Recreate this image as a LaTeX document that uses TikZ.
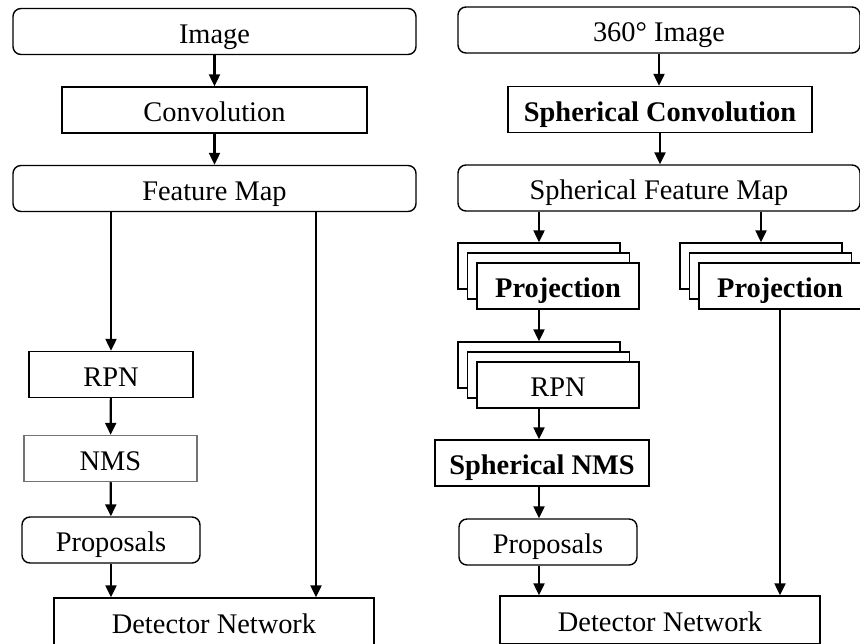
\documentclass[tikz,border=0pt]{standalone}
\usepackage{fontspec}
\setmainfont{Liberation Serif}
\usetikzlibrary{arrows.meta}

\begin{document}
\begin{tikzpicture}[x=0.5pt,y=-0.5pt,
  box/.style={draw, line width=0.7pt, fill=white, inner sep=0pt,
    font=\fontsize{14.2}{17}\selectfont, text height=11.6pt, text depth=0pt,
    minimum height=23pt},
  rbox/.style={box, rounded corners=4pt},
  flow/.style={-{Triangle[length=6pt,width=5.5pt]}, line width=1.1pt}]
\useasboundingbox (0,0) rectangle (860,643);

% standard detector
\node[rbox, minimum width=201.5pt] (img) at (214.5,31.5) {Image};
\node[box, minimum width=152.5pt] (conv) at (214.5,110) {Convolution};
\node[rbox, minimum width=201.5pt] (fmap) at (214.5,188.5) {Feature Map};
\node[box, minimum width=82pt] (rpn) at (111,374.5) {RPN};
\node[box, draw=black!55, minimum width=86.5pt] (nms) at (110.5,458.5) {NMS};
\node[rbox, minimum width=89pt] (prop) at (111,540) {Proposals};
\node[box, minimum width=160pt, minimum height=24pt] (det) at (214,622) {Detector Network};
\coordinate (skip) at (316,212);

\draw[flow] (img) -- (conv);
\draw[flow] (conv) -- (fmap);
\draw[flow] (fmap.south -| rpn) -- (rpn);
\draw[flow] (rpn) -- (nms);
\draw[flow] (nms) -- (prop);
\draw[flow] (prop) -- (det.north -| prop);
\draw[flow] (skip) -- (det.north -| skip);

% spherical detector
\node[rbox, minimum width=201pt] (simg) at (659,30) {360° Image};
\node[box, minimum width=152pt] (sconv) at (660,109.5) {\textbf{Spherical Convolution}};
\node[rbox, minimum width=201pt] (sfmap) at (659,188) {Spherical Feature Map};

\node[box, minimum width=81pt] (projAc) at (539,266) {};
\node[box, minimum width=81pt] (projAb) at (548.5,276) {};
\node[box, minimum width=81pt] (projA) at (558,286) {\textbf{Projection}};

\node[box, minimum width=81pt] (projBc) at (761,266) {};
\node[box, minimum width=81pt] (projBb) at (770.5,276) {};
\node[box, minimum width=81pt] (projB) at (780,286) {\textbf{Projection}};

\node[box, minimum width=81pt] (srpnc) at (539,365) {};
\node[box, minimum width=81pt] (srpnb) at (548.5,375) {};
\node[box, minimum width=81pt] (srpn) at (558,385) {RPN};

\node[box, minimum width=107pt] (snms) at (542,463) {\textbf{Spherical NMS}};
\node[rbox, minimum width=89pt] (sprop) at (548,542) {Proposals};
\node[box, minimum width=160pt, minimum height=24pt] (sdet) at (660,620) {Detector Network};

\draw[flow] (simg) -- (sconv.north -| simg);
\draw[flow] (sconv) -- (sfmap.north -| sconv);
\draw[flow] (sfmap.south -| projAc) -- (projAc);
\draw[flow] (sfmap.south -| projBc) -- (projBc);
\draw[flow] (projA.south -| srpnc) -- (srpnc);
\draw[flow] (srpn.south -| srpnc) -- (snms.north -| srpnc);
\draw[flow] (snms.south -| srpnc) -- (sprop.north -| srpnc);
\draw[flow] (sprop.south -| srpnc) -- (sdet.north -| srpnc);
\draw[flow] (projB) -- (sdet.north -| projB);
\end{tikzpicture}
\end{document}
